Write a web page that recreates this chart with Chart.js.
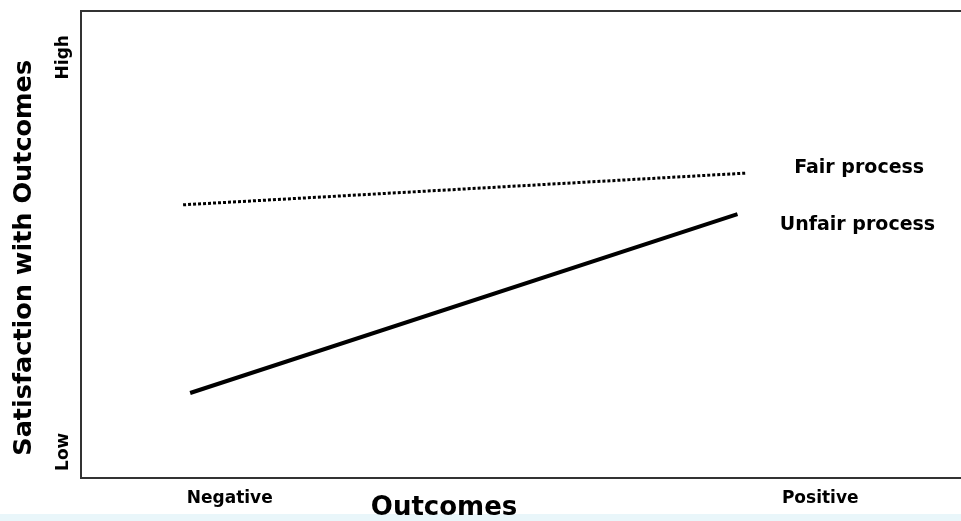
<!DOCTYPE html>
<html>
<head>
<meta charset="utf-8">
<script src="https://cdn.jsdelivr.net/npm/chart.js@4"></script>
<style>
  html, body { margin: 0; padding: 0; }
  body { width: 961px; height: 521px; background: linear-gradient(#fff 0, #fff 514px, #e9f6fa 514px); }
  #chart { display: block; }
</style>
</head>
<body>
<canvas id="chart" width="961" height="521"></canvas>
<script>
// Data
const xTickValues = [16.9, 84];
const xTickLabels = ['Negative', 'Positive'];
const yTickValues = [5.6, 90.1];
const yTickLabels = ['Low', 'High'];
const seriesNames = ['Fair process', 'Unfair process'];
const fairX = [11.6, 75.7];
const fairY = [58.5, 65.3];
const unfairX = [12.4, 74.6];
const unfairY = [18.2, 56.5];

const FONT = "'DejaVu Sans', Verdana, sans-serif";
const INK = '#000';

function toPoints(xs, ys) {
  return xs.map((x, i) => ({ x: x, y: ys[i] }));
}

// the titles in the original are not centred on the plot,
// padding them with trailing spaces nudges them the right way
function pad(text, n) {
  return text + ' '.repeat(n);
}

// draws the series name next to the right end of each line
const lineLabels = {
  id: 'lineLabels',
  afterDatasetsDraw(chart, args, opts) {
    const ctx = chart.ctx;
    ctx.save();
    ctx.font = 'bold 19px ' + FONT;
    ctx.fillStyle = INK;
    ctx.textAlign = 'center';
    ctx.textBaseline = 'middle';
    chart.data.datasets.forEach((ds, i) => {
      const pts = chart.getDatasetMeta(i).data;
      const last = pts[pts.length - 1];
      const off = opts.offsets[i];
      ctx.fillText(ds.label, last.x + off[0], last.y + off[1]);
    });
    ctx.restore();
  }
};

const chart = new Chart(document.getElementById('chart'), {
  type: 'line',
  data: {
    datasets: [{
      label: seriesNames[0],
      data: toPoints(fairX, fairY),
      borderColor: '#000',
      borderWidth: 3,
      borderDash: [3, 2],
      pointRadius: 0
    }, {
      label: seriesNames[1],
      data: toPoints(unfairX, unfairY),
      borderColor: '#000',
      borderWidth: 4,
      pointRadius: 0
    }]
  },
  options: {
    responsive: false,
    animation: false,
    layout: { padding: { top: 11, right: 0, left: 0, bottom: 0 } },
    plugins: {
      legend: { display: false },
      tooltip: { enabled: false },
      lineLabels: { offsets: [[112, -5], [120, 11]] }
    },
    scales: {
      x: {
        type: 'linear',
        position: 'bottom',
        min: 0,
        max: 100,
        grid: { display: false, drawTicks: false, tickLength: 0 },
        border: { display: true, color: '#333', width: 2 },
        afterBuildTicks: s => { s.ticks = xTickValues.map(v => ({ value: v })); },
        ticks: {
          color: INK,
          padding: 10,
          maxRotation: 0,
          font: { family: FONT, size: 17, weight: 'bold' },
          callback: (v, i) => xTickLabels[i]
        },
        title: {
          display: true,
          text: pad('Outcomes', 17),
          color: INK,
          padding: { top: 0, bottom: 0 },
          font: { family: FONT, size: 26, weight: 'bold', lineHeight: 1 }
        },
        afterFit: s => { s.height = 43; }
      },
      xTop: {
        type: 'linear',
        position: 'top',
        min: 0,
        max: 100,
        grid: { display: false, drawTicks: false },
        ticks: { display: false },
        border: { display: true, color: '#333', width: 2 },
        afterFit: s => { s.height = 0; }
      },
      y: {
        type: 'linear',
        position: 'left',
        min: 0,
        max: 100,
        grid: { display: false, drawTicks: false, tickLength: 0 },
        border: { display: true, color: '#333', width: 2 },
        afterBuildTicks: s => { s.ticks = yTickValues.map(v => ({ value: v })); },
        ticks: {
          color: INK,
          padding: -5,
          minRotation: 90,
          maxRotation: 90,
          crossAlign: 'center',
          font: { family: FONT, size: 17, weight: 'bold' },
          callback: (v, i) => yTickLabels[i]
        },
        title: {
          display: true,
          text: pad('Satisfaction with Outcomes', 3),
          color: INK,
          padding: { top: 9, bottom: 0 },
          font: { family: FONT, size: 25.5, weight: 'bold' }
        },
        afterFit: s => { s.width = 81; }
      }
    }
  },
  plugins: [lineLabels]
});
</script>
</body>
</html>
